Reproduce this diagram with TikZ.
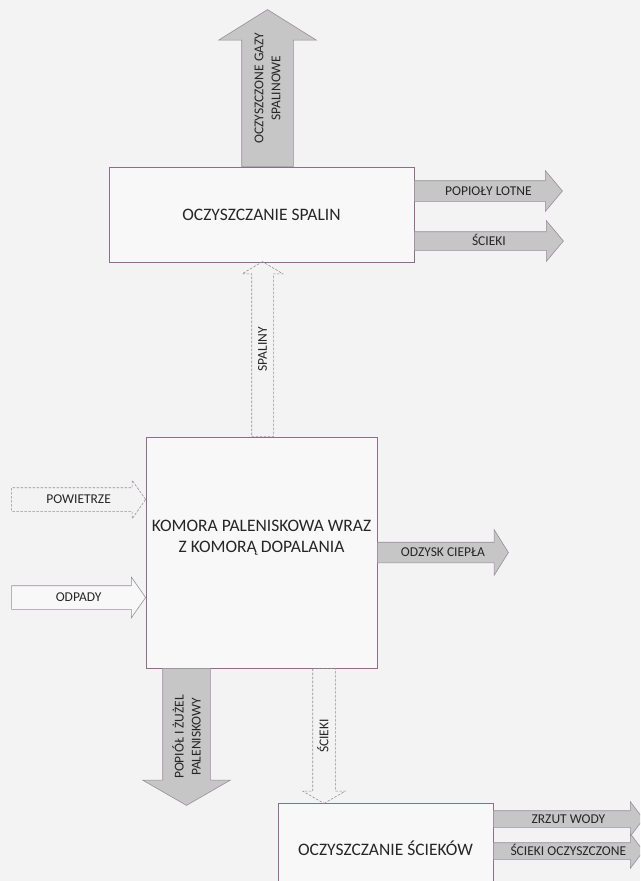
\documentclass[tikz,border=0pt]{standalone}
\usepackage{fontspec}
\setmainfont{Carlito}
\usetikzlibrary{shapes.arrows, calc, positioning}
\definecolor{paper}{HTML}{F3F3F3}
\definecolor{boxfill}{HTML}{F8F8F8}
\definecolor{plum}{HTML}{8C6E8C}
\definecolor{arrfill}{HTML}{C6C6C6}
\definecolor{arrline}{HTML}{9A8C9A}
\definecolor{ink}{HTML}{262626}

\begin{document}
\begin{tikzpicture}[x=1pt, y=-1pt,
  stage/.style={draw=plum, fill=boxfill, line width=0.8pt, font=\fontsize{17.5}{21}\selectfont, text=ink, align=center, inner sep=0pt},
  flow/.style={single arrow, draw=arrline, fill=arrfill, line width=0.6pt, inner xsep=0pt, outer sep=0pt, single arrow tip angle=110},
  thin flow/.style={flow, fill=none, dash pattern=on 2.5pt off 1.5pt},
  feed/.style={flow, fill=boxfill},
  tag/.style={font=\fontsize{13.5}{16}\selectfont, text=ink, inner sep=0pt, text height=8.7pt, text depth=0pt},
  tags/.style={font=\fontsize{13.5}{17}\selectfont, text=ink, inner sep=0pt, align=center},
]

% Background
\useasboundingbox (0,0) rectangle (640,881);
\fill[paper] (0,0) rectangle (640,881);
\clip (0,0) rectangle (640,881);

% ================================================================
% Process stages
% ================================================================
\node[stage, minimum width=305pt, minimum height=95pt] (spalin) at (261.5,214.5) {OCZYSZCZANIE SPALIN};
\node[stage, minimum width=231pt, minimum height=231pt] (komora) at (261.5,552.5) {};
\node[stage, draw=none, fill=none] (komoratxt) at ($(komora.center)+(0,-15)$)
  {KOMORA PALENISKOWA WRAZ\\Z KOMORĄ DOPALANIA};
\node[stage, minimum width=215pt, minimum height=90pt] (sciekow) at (385.5,848) {OCZYSZCZANIE ŚCIEKÓW};

% ================================================================
% Flue gas cleaning outputs
% ================================================================
\node[flow, rotate=90, anchor=tail, minimum height=157pt, inner ysep=25.5pt,
  single arrow head extend=23pt, single arrow tip angle=116] (gazy) at ($(spalin.north)+(6,0)$) {};
\node[tags, rotate=90] (gazytxt) at ($(gazy.tail)!0.5!(gazy.tip)$) {OCZYSZCZONE GAZY\\SPALINOWE};

\node[flow, anchor=tail, minimum height=148pt, inner ysep=10pt,
  single arrow head extend=10pt, single arrow tip angle=100] (lotne) at ($(spalin.east)+(0,-23.5)$) {};
\node[tag] (lotnetxt) at ($(lotne.tail)!0.5!(lotne.tip)$) {POPIOŁY LOTNE};

\node[flow, anchor=tail, minimum height=149pt, inner ysep=9pt,
  single arrow head extend=11pt, single arrow tip angle=100] (odciek) at ($(spalin.east)+(0,26.5)$) {};
\node[tag] (odciektxt) at ($(odciek.tail)!0.5!(odciek.tip)$) {ŚCIEKI};

% Flue gas from the chamber
\node[thin flow, rotate=90, anchor=tail, minimum height=175pt, inner ysep=10.5pt,
  single arrow head extend=9.5pt, single arrow tip angle=118] (spaliny) at ($(komora.north)+(1,0)$) {};
\node[tag, rotate=90] (spalinytxt) at ($(spaliny.tail)!0.5!(spaliny.tip)$) {SPALINY};

% ================================================================
% Chamber inputs and outputs
% ================================================================
\node[thin flow, anchor=tip, minimum height=134pt, inner ysep=11.5pt,
  single arrow head extend=7.5pt] (powietrze) at ($(komora.west)+(0,-53)$) {};
\node[tag] (powietrzetxt) at ($(powietrze.tail)!0.5!(powietrze.tip)$) {POWIETRZE};

\node[feed, anchor=tip, minimum height=134pt, inner ysep=11.5pt,
  single arrow head extend=8.5pt] (odpady) at ($(komora.west)+(0,45)$) {};
\node[tag] (odpadytxt) at ($(odpady.tail)!0.5!(odpady.tip)$) {ODPADY};

\node[flow, anchor=tail, minimum height=131pt, inner ysep=10pt,
  single arrow head extend=12.5pt, single arrow tip angle=116] (cieplo) at (komora.east) {};
\node[tag] (cieplotxt) at ($(cieplo.tail)!0.5!(cieplo.tip)$) {ODZYSK CIEPŁA};

\node[flow, rotate=-90, anchor=tail, minimum height=137pt, inner ysep=23.5pt,
  single arrow head extend=20pt, single arrow tip angle=120] (popiol) at ($(komora.south)+(-75,0)$) {};
\node[tags, rotate=90] (popioltxt) at ($(popiol.tail)!0.5!(popiol.tip)$) {POPIÓŁ I ŻUŻEL\\PALENISKOWY};

\node[thin flow, rotate=-90, anchor=tail, minimum height=135pt, inner ysep=11pt,
  single arrow head extend=10pt, single arrow tip angle=120] (odplyw) at ($(komora.south)+(62.5,0)$) {};
\node[tag, rotate=90] (odplywtxt) at ($(odplyw.tail)!0.5!(odplyw.tip)$) {ŚCIEKI};

% ================================================================
% Waste water treatment outputs
% ================================================================
\node[flow, anchor=tail, minimum height=150pt, inner ysep=8pt,
  single arrow head extend=9pt, single arrow tip angle=106] (zrzut) at ($(sciekow.east)+(0,-29)$) {};
\node[tag] (zrzuttxt) at ($(zrzut.tail)!0.5!(zrzut.tip)$) {ZRZUT WODY};

\node[flow, anchor=tail, minimum height=150pt, inner ysep=8pt,
  single arrow head extend=9pt, single arrow tip angle=106] (oczyszczone) at ($(sciekow.east)+(0,3)$) {};
\node[tag] (oczyszczonetxt) at ($(oczyszczone.tail)!0.5!(oczyszczone.tip)$) {ŚCIEKI OCZYSZCZONE};

\end{tikzpicture}
\end{document}
